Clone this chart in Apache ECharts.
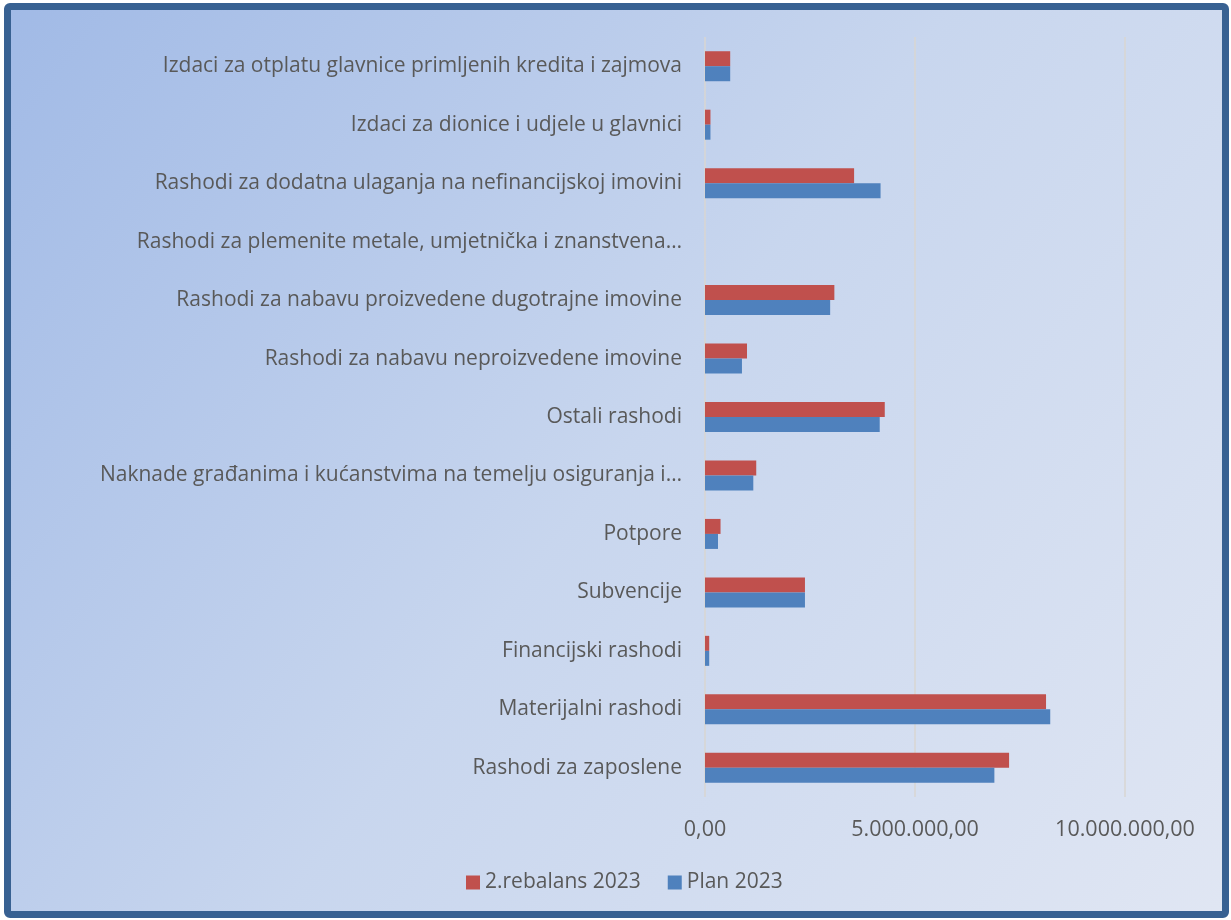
<!DOCTYPE html>
<html>
<head>
<meta charset="utf-8">
<script src="https://cdn.jsdelivr.net/npm/echarts@6/dist/echarts.min.js"></script>
<style>
  html, body { margin: 0; padding: 0; background: #fff; }
  #wrap {
    position: absolute; left: 4px; top: 3px; width: 1225px; height: 915px;
    box-sizing: border-box; border: 7px solid #386192; border-radius: 6px; overflow: hidden;
  }
  #chart { width: 100%; height: 100%; }
</style>
</head>
<body>
<div id="wrap"><div id="chart"></div></div>
<script>
// categories bottom -> top
const categories = [
  'Rashodi za zaposlene',
  'Materijalni rashodi',
  'Financijski rashodi',
  'Subvencije',
  'Potpore',
  'Naknade građanima i kućanstvima na temelju osiguranja i…',
  'Ostali rashodi',
  'Rashodi za nabavu neproizvedene imovine',
  'Rashodi za nabavu proizvedene dugotrajne imovine',
  'Rashodi za plemenite metale, umjetnička i znanstvena…',
  'Rashodi za dodatna ulaganja na nefinancijskoj imovini',
  'Izdaci za dionice i udjele u glavnici',
  'Izdaci za otplatu glavnice primljenih kredita i zajmova'
]
const rebalans2023 = [7240000, 8120000, 100000, 2380000, 370000, 1220000, 4280000, 1000000, 3080000, 0, 3550000, 130000, 600000]
const plan2023 = [6890000, 8220000, 100000, 2380000, 310000, 1150000, 4160000, 880000, 2980000, 0, 4180000, 130000, 600000]
const xTicks = [0, 5000000, 10000000]

const font = 'Open Sans'
const textColor = '#595959'

function fmt(v) {
  const s = String(Math.round(v)).replace(/\B(?=(\d{3})+(?!\d))/g, '.')
  return s + ',00'
}

const chart = echarts.init(document.getElementById('chart'))
chart.setOption({
  backgroundColor: {
    type: 'linear', x: 0, y: 0, x2: 1, y2: 1,
    colorStops: [
      { offset: 0, color: '#a1bae6' },
      { offset: 0.5, color: '#c8d6ee' },
      { offset: 1, color: '#e0e6f3' }
    ]
  },
  textStyle: { fontFamily: font },
  legend: {
    data: ['2.rebalans 2023', 'Plan 2023'],
    left: 450,
    bottom: 13,
    itemWidth: 14,
    itemHeight: 14,
    itemGap: 27,
    icon: 'rect',
    textStyle: { color: textColor, fontSize: 21, fontFamily: font }
  },
  grid: { left: 694, right: 97, top: 27, bottom: 114 },
  xAxis: {
    type: 'value',
    min: xTicks[0],
    max: xTicks[xTicks.length - 1],
    interval: 5000000,
    axisLine: { show: false },
    axisTick: { show: false },
    splitLine: { lineStyle: { color: '#d9d6d2', width: 1.5 } },
    axisLabel: {
      color: textColor, fontSize: 21.5, fontFamily: font, margin: 22,
      formatter: fmt
    }
  },
  yAxis: {
    type: 'category',
    data: categories,
    axisLine: { show: false },
    axisTick: { show: false },
    axisLabel: { color: textColor, fontSize: 21, fontFamily: font, margin: 23 }
  },
  series: [
    {
      name: '2.rebalans 2023',
      type: 'bar',
      data: rebalans2023,
      barWidth: 15,
      barGap: '0%',
      itemStyle: { color: '#c0504d' }
    },
    {
      name: 'Plan 2023',
      type: 'bar',
      data: plan2023,
      barWidth: 15,
      barGap: '0%',
      itemStyle: { color: '#4f81bd' }
    }
  ]
})
</script>
</body>
</html>
